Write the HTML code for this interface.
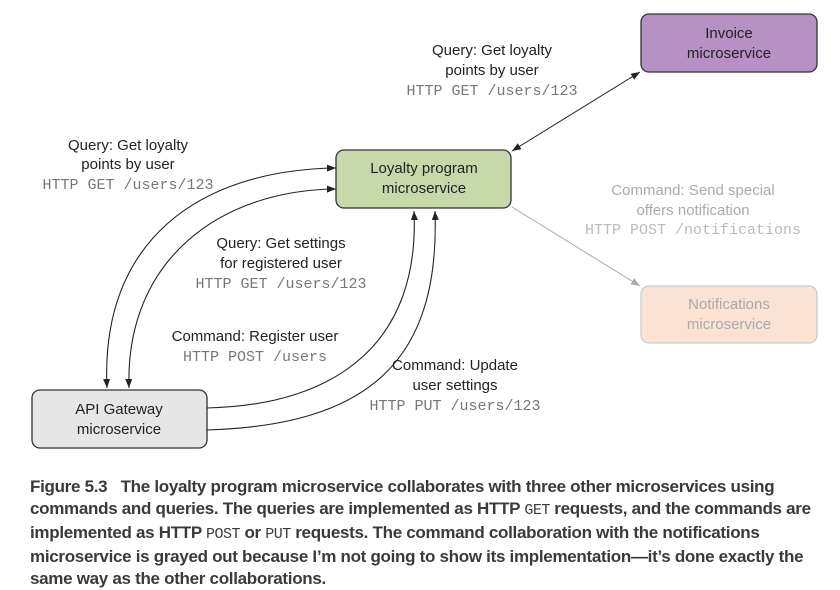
<!DOCTYPE html>
<html><head><meta charset="utf-8"><style>
html,body{margin:0;padding:0;background:#fff;width:840px;height:590px;overflow:hidden}
svg text{font-family:"Liberation Sans",sans-serif;font-size:15px;fill:#222}
svg text.m{font-family:"Liberation Mono",monospace;font-size:15px;fill:#777}
svg text.g{fill:#aaa}
svg text.gm{font-family:"Liberation Mono",monospace;font-size:15px;fill:#bbb}
.cap{position:absolute;left:30px;top:476px;font-family:"Liberation Sans",sans-serif;font-weight:bold;font-size:17px;line-height:22px;color:#3a3a3a;letter-spacing:-0.3px;white-space:nowrap;transform:scaleX(1.0);transform-origin:0 0}
.cap code{font-family:"Liberation Mono",monospace;font-weight:normal;font-size:15px;letter-spacing:-0.5px}
</style></head><body>
<svg width="840" height="470" viewBox="0 0 840 470" style="position:absolute;left:0;top:0">
<defs>
<marker id="a" markerWidth="10" markerHeight="8" refX="9" refY="4" orient="auto-start-reverse" markerUnits="userSpaceOnUse"><path d="M0,0.5 L9,4 L0,7.5z" fill="#222"/></marker>
<marker id="ag" markerWidth="10" markerHeight="8" refX="9" refY="4" orient="auto" markerUnits="userSpaceOnUse"><path d="M0,0.5 L9,4 L0,7.5z" fill="#aaa"/></marker>
</defs>
<rect x="641" y="14" width="176" height="58" rx="8" fill="#b790c4" stroke="#333" stroke-width="1.3"/>
<text x="729" y="38" text-anchor="middle">Invoice</text>
<text x="729" y="58" text-anchor="middle">microservice</text>
<rect x="336" y="150" width="175" height="58" rx="8" fill="#c8d9a9" stroke="#333" stroke-width="1.3"/>
<text x="424" y="173" text-anchor="middle">Loyalty program</text>
<text x="424" y="193" text-anchor="middle">microservice</text>
<rect x="641" y="286" width="176" height="57" rx="8" fill="#fbe2d2" stroke="#ccc" stroke-width="1.3"/>
<text x="729" y="309" text-anchor="middle" class="g">Notifications</text>
<text x="729" y="329" text-anchor="middle" class="g">microservice</text>
<rect x="32" y="390" width="175" height="58" rx="8" fill="#e6e6e6" stroke="#333" stroke-width="1.3"/>
<text x="119" y="414" text-anchor="middle">API Gateway</text>
<text x="119" y="434" text-anchor="middle">microservice</text>

<line x1="512" y1="151" x2="640" y2="72" stroke="#222" stroke-width="1" marker-end="url(#a)" marker-start="url(#a)"/>
<line x1="512" y1="207" x2="640" y2="286" stroke="#aaa" stroke-width="1" marker-end="url(#ag)"/>

<path d="M336,168 C200,170 100,240 107,388" fill="none" stroke="#222" stroke-width="1.1" marker-end="url(#a)" marker-start="url(#a)"/>
<path d="M336,189 C220,190 125,260 129,388" fill="none" stroke="#222" stroke-width="1.1" marker-end="url(#a)" marker-start="url(#a)"/>
<path d="M207,408 C340,405 420,340 414,211" fill="none" stroke="#222" stroke-width="1.1" marker-end="url(#a)"/>
<path d="M207,430 C370,425 440,360 435,211" fill="none" stroke="#222" stroke-width="1.1" marker-end="url(#a)"/>

<text x="492" y="55" text-anchor="middle">Query: Get loyalty</text>
<text x="492" y="75" text-anchor="middle">points by user</text>
<text x="492" y="95" text-anchor="middle" class="m">HTTP GET /users/123</text>

<text x="128" y="150" text-anchor="middle">Query: Get loyalty</text>
<text x="128" y="169" text-anchor="middle">points by user</text>
<text x="128" y="189" text-anchor="middle" class="m">HTTP GET /users/123</text>

<text x="281" y="248" text-anchor="middle">Query: Get settings</text>
<text x="281" y="268" text-anchor="middle">for registered user</text>
<text x="281" y="288" text-anchor="middle" class="m">HTTP GET /users/123</text>

<text x="255" y="341" text-anchor="middle">Command: Register user</text>
<text x="255" y="361" text-anchor="middle" class="m">HTTP POST /users</text>

<text x="455" y="370" text-anchor="middle">Command: Update</text>
<text x="455" y="390" text-anchor="middle">user settings</text>
<text x="455" y="410" text-anchor="middle" class="m">HTTP PUT /users/123</text>

<text x="693" y="195" text-anchor="middle" class="g">Command: Send special</text>
<text x="693" y="215" text-anchor="middle" class="g">offers notification</text>
<text x="693" y="234" text-anchor="middle" class="gm">HTTP POST /notifications</text>
</svg>
<div class="cap">Figure 5.3&nbsp;&nbsp; The loyalty program microservice collaborates with three other microservices using<br>commands and queries. The queries are implemented as HTTP <code>GET</code> requests, and the commands are<br>implemented as HTTP <code>POST</code> or <code>PUT</code> requests. The command collaboration with the notifications<br>microservice is grayed out because I’m not going to show its implementation—it’s done exactly the<br>same way as the other collaborations.</div>
</body></html>
